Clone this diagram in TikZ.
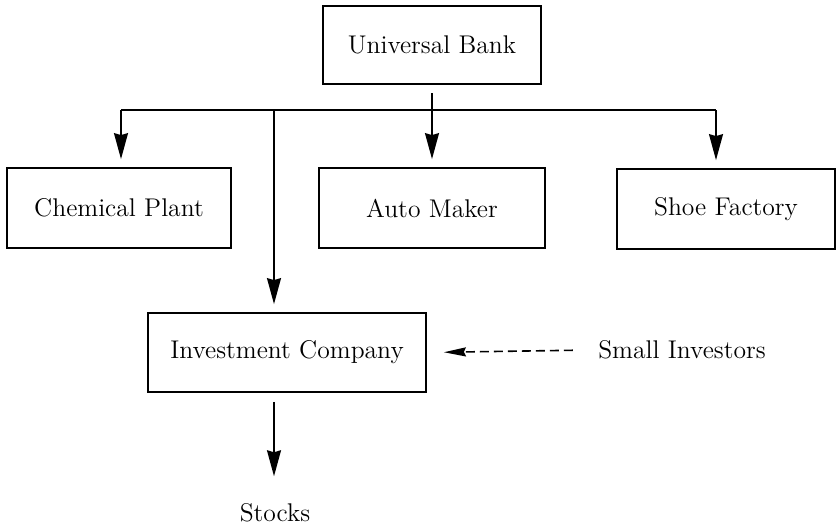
\documentclass[tikz,border=0pt]{standalone}
\usetikzlibrary{arrows.meta}
\begin{document}
\begin{tikzpicture}[x=0.5pt, y=-0.5pt, line width=0.8pt,
  every node/.style={font=\fontsize{12.8}{15}\selectfont},
  firm/.style={draw, line width=0.9pt, minimum height=40pt},
  link/.style={-{Stealth[length=13pt,width=7pt,inset=1pt]}, shorten >=4pt},
  hint/.style={dash pattern=on 4.5pt off 2.5pt, -{Stealth[length=11pt,width=4.5pt,inset=1pt]}, shorten >=8.5pt, shorten <=9pt}]

\useasboundingbox (0,0) rectangle (836,527);

% Bank at the top
\node[firm, minimum width=109pt, minimum height=39pt] at (432,45) (bank) {Universal Bank};

% Firms held by the bank
\node[firm, minimum width=112pt] at (119,208) (chem) {Chemical Plant};
\node[firm, minimum width=113pt] at (432,208) (auto) {Auto Maker};
\node[firm, minimum width=109pt] at (726,209) (shoe) {Shoe Factory};
\node[firm, minimum width=139pt, minimum height=39.5pt] at (287,352.5) (invest) {Investment Company};

% Free text
\node at (682,350) (small) {Small Investors};
\node at (275,513) (stocks) {Stocks};

% Bus under the bank
\coordinate (drop) at (432,93);
\coordinate (busL) at (121,110);
\coordinate (busI) at (274,110);
\coordinate (busR) at (716,110);
\draw (busL) -- (busR);
\draw[link] (drop) -- (auto.north);
\draw[link] (busL) -- (busL |- chem.north);
\draw[link] (busR) -- (busR |- shoe.north);
\draw[link] (busI) -- (busI |- invest.north);

% Below the investment company
\draw[link, shorten <=4.5pt, shorten >=10pt] (busI |- invest.south) -- (busI |- stocks.north);
\draw[hint] (small.west) -- (invest.east);
\end{tikzpicture}
\end{document}
